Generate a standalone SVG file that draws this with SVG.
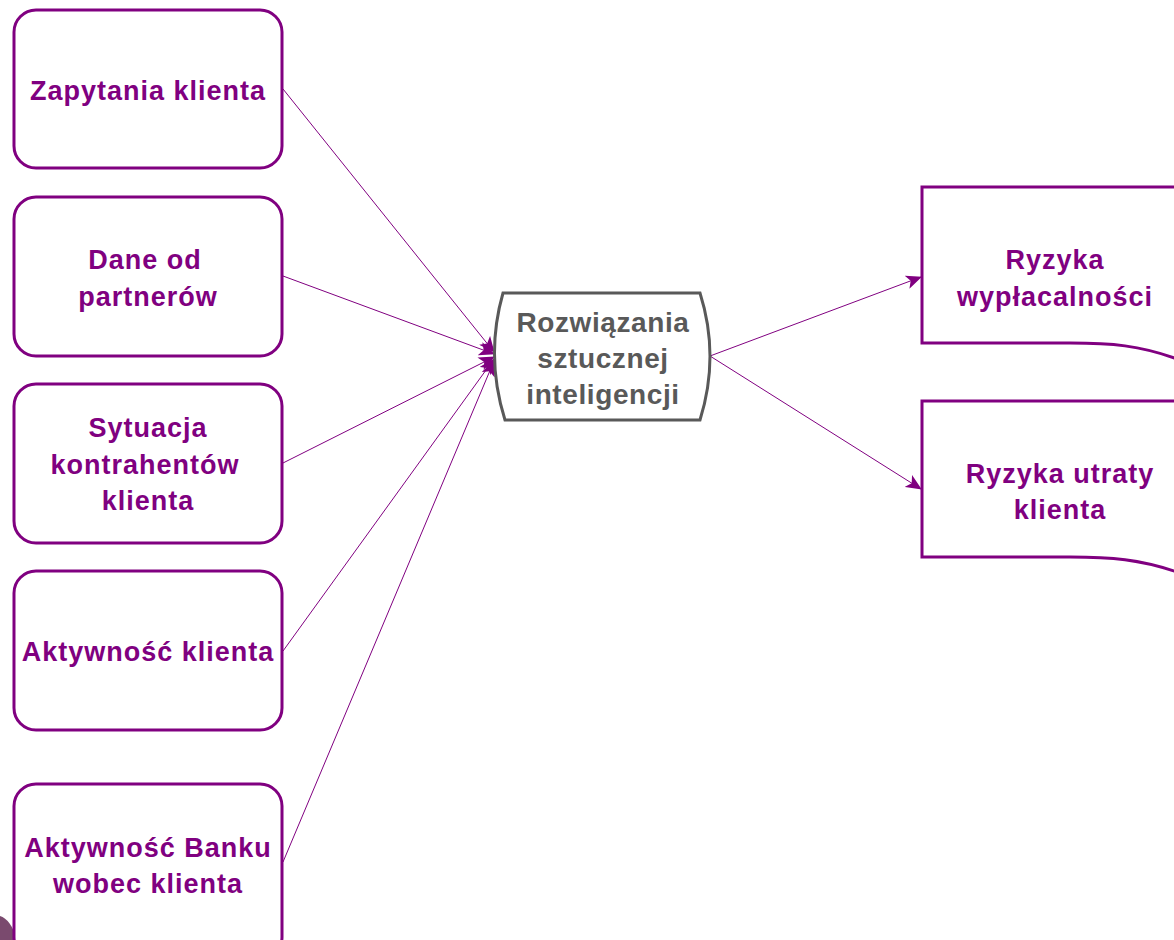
<svg xmlns="http://www.w3.org/2000/svg" width="1174" height="940" viewBox="0 0 1174 940">
<defs>
<style>
.box{fill:#fff;stroke:#800080;stroke-width:3}
.t{font-family:"Liberation Sans",Arial,sans-serif;font-weight:bold;font-size:27px;letter-spacing:1px;fill:#800080;text-anchor:middle;dominant-baseline:central}
.g{font-family:"Liberation Sans",Arial,sans-serif;font-weight:bold;font-size:28px;letter-spacing:0.6px;fill:#595959;text-anchor:middle;dominant-baseline:central}
.ln{stroke:#800080;stroke-width:1;fill:none}
</style>
<marker id="ah" viewBox="0 0 16 14" refX="15" refY="7" markerWidth="16" markerHeight="14" markerUnits="userSpaceOnUse" orient="auto">
<path d="M0,0 L16,7 L0,14 L4,7 Z" fill="#800080"/>
</marker>
</defs>
<rect width="1174" height="940" fill="#fff"/>
<path d="M0,916 C7,918 13,926 17,940 L0,940 Z" fill="#7a4a6e"/>
<g id="connectors">
<line class="ln" x1="283" y1="89" x2="494" y2="352" marker-end="url(#ah)"/>
<line class="ln" x1="283" y1="276" x2="494" y2="354" marker-end="url(#ah)"/>
<line class="ln" x1="283" y1="463" x2="494" y2="357" marker-end="url(#ah)"/>
<line class="ln" x1="283" y1="651" x2="494" y2="359" marker-end="url(#ah)"/>
<line class="ln" x1="283" y1="862" x2="494" y2="361" marker-end="url(#ah)"/>
<line class="ln" x1="710" y1="356" x2="921" y2="277" marker-end="url(#ah)"/>
<line class="ln" x1="710" y1="356" x2="921" y2="489" marker-end="url(#ah)"/>
</g>
<g id="n1"><rect class="box" x="14" y="10" width="268" height="158" rx="22"/><text class="t" x="148" y="91">Zapytania klienta</text></g>
<g id="n2"><rect class="box" x="14" y="197" width="268" height="159" rx="22"/><text class="t" x="145" y="260">Dane od</text><text class="t" x="148" y="297">partnerów</text></g>
<g id="n3"><rect class="box" x="14" y="384" width="268" height="159" rx="22"/><text class="t" x="148" y="428">Sytuacja</text><text class="t" x="145" y="465">kontrahentów</text><text class="t" x="148" y="501">klienta</text></g>
<g id="n4"><rect class="box" x="14" y="571" width="268" height="159" rx="22"/><text class="t" x="148" y="652">Aktywność klienta</text></g>
<g id="n5"><rect class="box" x="14" y="784" width="268" height="175" rx="22"/><text class="t" x="148" y="848">Aktywność Banku</text><text class="t" x="148" y="884">wobec klienta</text></g>
<g id="center"><path d="M503,293 L700,293 Q720,356 700,420 L505,420 Q485,356 503,293 Z" fill="#fff" stroke="#595959" stroke-width="3"/><text class="g" x="603" y="322">Rozwiązania</text><text class="g" x="603" y="358">sztucznej</text><text class="g" x="603" y="394">inteligencji</text></g>
<g id="r1"><path class="box" d="M922,187 L1180,187 L1180,360 C1140,345 1110,343 1070,343 L922,343 Z"/><text class="t" x="1055" y="260">Ryzyka</text><text class="t" x="1055" y="297">wypłacalności</text></g>
<g id="r2"><path class="box" d="M922,401 L1180,401 L1180,573 C1140,559 1110,557 1070,557 L922,557 Z"/><text class="t" x="1060" y="474">Ryzyka utraty</text><text class="t" x="1060" y="510">klienta</text></g>
</svg>
